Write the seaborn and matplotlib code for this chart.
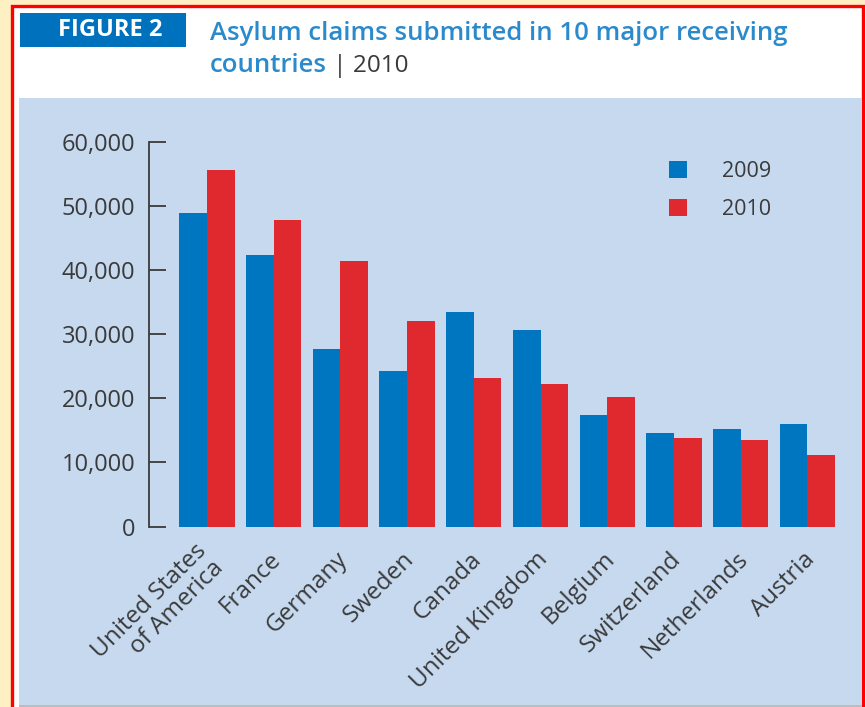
import matplotlib
matplotlib.use('Agg')
import matplotlib.pyplot as plt
import matplotlib.transforms as mtransforms
from matplotlib.patches import Rectangle, Patch
from matplotlib.ticker import StrMethodFormatter
import pandas as pd
import seaborn as sns

# Data
countries = ['United States\nof America', 'France', 'Germany', 'Sweden', 'Canada',
             'United Kingdom', 'Belgium', 'Switzerland', 'Netherlands', 'Austria']
claims_2009 = [49000, 42400, 27700, 24300, 33500, 30700, 17400, 14600, 15200, 16000]
claims_2010 = [55700, 47900, 41500, 32100, 23200, 22300, 20200, 13800, 13500, 11200]
years = ['2009', '2010']
year_colors = ['#0076C0', '#E0292E']
y_ticks = [0, 10000, 20000, 30000, 40000, 50000, 60000]

df = pd.DataFrame({
    'country': countries * 2,
    'claims': claims_2009 + claims_2010,
    'year': [years[0]] * len(countries) + [years[1]] * len(countries),
})

sns.set_style('white')
plt.rcParams['font.family'] = ['Open Sans', 'DejaVu Sans']

W, H = 865, 707
fig = plt.figure(figsize=(W / 100, H / 100), dpi=100, facecolor='#FEF0C3')

def px(x0, y0, x1, y1):
    # pixel box (top-left origin) -> figure fractions
    return (x0 / W, 1 - y1 / H, (x1 - x0) / W, (y1 - y0) / H)

def box(x0, y0, x1, y1, **kw):
    l, b, w, h = px(x0, y0, x1, y1)
    fig.patches.append(Rectangle((l, b), w, h, transform=fig.transFigure, **kw))

# frame: red border, white card, blue panel
box(11.5, 5.5, 863, 720, facecolor='white', edgecolor='#FF0000', linewidth=2.4, zorder=0)
box(19, 98, 862, 705, facecolor='#C6D9EF', edgecolor='none', zorder=1)
box(19, 705, 862, 707, facecolor='#BDBDBD', edgecolor='none', zorder=1)

# header
box(20, 13, 186, 47, facecolor='#0071BC', edgecolor='none', zorder=2)
fig.text(110 / W, 1 - 30 / H, 'FIGURE 2', color='white', fontsize=17,
         fontweight='bold', ha='center', va='center', zorder=3)
title_color = '#2B8ACB'
fig.text(210 / W, 1 - 40 / H, 'Asylum claims submitted in 10 major receiving',
         color=title_color, fontsize=18.5, fontweight='semibold', ha='left',
         va='baseline', zorder=3)
t2 = fig.text(210 / W, 1 - 72 / H, 'countries', color=title_color, fontsize=18.5,
              fontweight='semibold', ha='left', va='baseline', zorder=3)

ax = fig.add_axes([149.3 / W, 1 - 526.5 / H, (850 - 149.3) / W, (526.5 - 142.3) / H])
ax.set_zorder(5)
ax.patch.set_alpha(0)

sns.barplot(data=df, x='country', y='claims', hue='year', palette=year_colors,
            width=0.83, gap=0, saturation=1, linewidth=0, legend=False, ax=ax)

ax.annotate(' | 2010', xy=(1, 0), xycoords=t2, ha='left', va='bottom',
            color='#3A3A3A', fontsize=17.5, annotation_clip=False)

ax.set_xlim(-0.865, 9.64)
ax.set_ylim(0, 60000)
ax.set_yticks(y_ticks)
ax.yaxis.set_major_formatter(StrMethodFormatter('{x:,.0f}'))
ax.set_xlabel('')
ax.set_ylabel('')

for side in ['top', 'right', 'bottom']:
    ax.spines[side].set_visible(False)
ax.spines['left'].set_color('#3A3A3A')
ax.spines['left'].set_linewidth(1.3)

ax.tick_params(axis='y', direction='in', length=12, width=1.3, color='#3A3A3A',
               pad=10, labelsize=17, labelcolor='#3A3A3A', left=True)
ax.tick_params(axis='x', length=0, pad=21, labelsize=17.5, labelcolor='#3A3A3A')

shift = mtransforms.ScaledTranslation(4 / 100, 0, fig.dpi_scale_trans)
for lab in ax.get_xticklabels():
    lab.set_rotation(45)
    lab.set_ha('right')
    lab.set_va('center')
    lab.set_rotation_mode('anchor')
    lab.set_multialignment('right')
    lab.set_linespacing(1.0)
    lab.set_transform(lab.get_transform() + shift)

handles = [Patch(facecolor=c, edgecolor='none') for c in year_colors]
ax.legend(handles, years, loc='upper left', frameon=False, fontsize=15.5,
          handlelength=0.85, handleheight=0.85, handletextpad=1.6,
          labelspacing=0.77, borderpad=0, borderaxespad=0,
          bbox_to_anchor=(669 / W, 1 - 161 / H), bbox_transform=fig.transFigure,
          labelcolor='#3A3A3A')

fig.savefig('out.png', dpi=100, facecolor=fig.get_facecolor())
